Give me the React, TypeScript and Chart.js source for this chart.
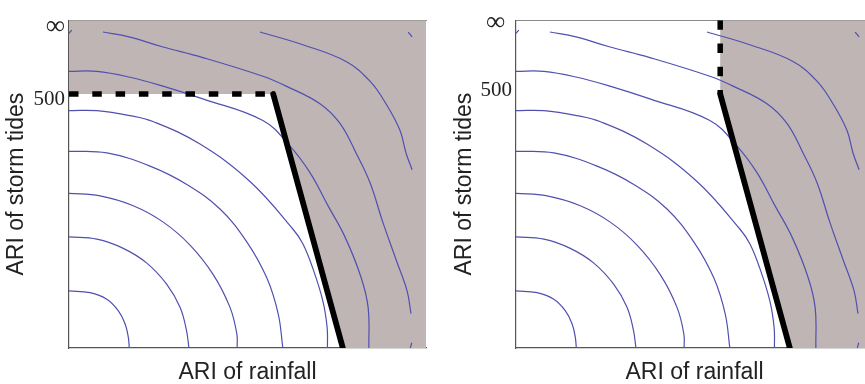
import React, { useEffect, useRef } from 'react';
import { Chart, registerables } from 'chart.js';

Chart.register(...registerables);

// ---- data (normalised ARI units: 0..100 on both axes) ----
const xTitle = 'ARI of rainfall';
const yTitle = 'ARI of storm tides';
const yTickLabels = ['500', '∞'];
const yTickValuesLeft = [75.7, 97.9];
const yTickValuesRight = [78.7, 99.1];

const contour1 = [[0, 17.4], [5.9, 16.9], [10.6, 14.9], [13.8, 11.4], [15.7, 7.4], [16.6, 3.4], [16.9, 0]];
const contour2 = [[0, 33.9], [7.8, 33.2], [15.2, 30.4], [21.8, 25.9], [27.4, 19.4], [31.1, 12.4], [32.9, 5.4], [33.6, 0]];
const contour3 = [[0, 47.2], [8.7, 46.4], [18.0, 43.4], [26.4, 38.4], [33.9, 31.4], [40.4, 22.4], [45.1, 12.4], [47.0, 4.4], [47.1, 0]];
const contour4 = [[0, 60.0], [10.6, 59.5], [22.7, 55.5], [33.0, 49.9], [42.3, 42.4], [49.8, 32.4], [55.4, 21.4], [58.6, 10.4], [59.9, 0]];
const contour5 = [[0, 72.4], [7.8, 72.4], [17.1, 70.9], [23.5, 69.1], [36.7, 62.2], [50.7, 50.8], [62.7, 36.3], [65.5, 31.8], [68.3, 24.3], [71.1, 14.4], [72.3, 6.3], [72.4, 0]];
const contour6 = [[0, 84.4], [7.8, 84.4], [17.1, 82.6], [26.3, 79.9], [37.5, 76.0], [54.3, 69.4], [61.9, 61.6], [67.5, 53.5], [72.5, 43.5], [77.3, 33.9], [81.8, 21.6], [83.8, 12.3], [84.0, 0]];
const contour7 = [[9.5, 96.4], [16.8, 94.9], [26.1, 91.9], [37.5, 88.6], [54.3, 82.9], [60.8, 79.9], [70.3, 74.5], [75.9, 68.5], [80.4, 59.5], [84.3, 50.5], [87.9, 38.4], [91.8, 26.4], [94.7, 17.4], [95.8, 10.5]];
const contour7LeftStub = [[0, 96.0], [0.8, 97.0]];
const contour7BottomStub = [[96.0, 1.6], [95.6, 0]];
const contour8 = [[53.5, 96.4], [65.5, 92.5], [77.6, 87.4], [84.3, 81.4], [88.8, 74.5], [92.7, 66.4], [94.4, 59.5], [96.1, 54.4]];
const contour9 = [[95.0, 96.4], [96.1, 94.9]];

const designLine = [[57.2, 77.5], [76.7, 0]];
const leftDashed = [[0, 77.5], [57.2, 77.5]];
const rightDashed = [[57.2, 100], [57.2, 77.5]];
const leftGrayEdge = [[0, 77.5], [57.2, 77.5], [76.7, 0], [100, 0]];
const rightGrayEdge = [[0, 100], [57.2, 100], [57.2, 77.5], [76.7, 0], [100, 0]];

const contours = [contour1, contour2, contour3, contour4, contour5, contour6, contour7, contour7LeftStub, contour7BottomStub, contour8, contour9];

const GRAY = 'rgb(190,181,180)';
const BLUE = '#5050b0';

const pts = (a: number[][]) => a.map(([x, y]) => ({ x, y }));

type Variant = 'left' | 'right';

function Panel({ variant }: { variant: Variant }) {
  const ref = useRef<HTMLCanvasElement | null>(null);
  useEffect(() => {
    if (!ref.current) return;
    const isLeft = variant === 'left';
    const yAxisWidth = isLeft ? 69 : 76;
    const plotWidth = 357;
    const canvasWidth = 440;
    const tickVals = isLeft ? yTickValuesLeft : yTickValuesRight;

    const datasets: any[] = [];
    datasets.push({
      data: pts(designLine),
      borderColor: '#000',
      borderWidth: 5.8,
      borderCapStyle: 'round',
      pointRadius: 0,
      tension: 0,
      fill: false,
      clip: 0,
    });
    datasets.push({
      data: pts(isLeft ? leftDashed : rightDashed),
      borderColor: '#000',
      borderWidth: 5.5,
      borderDash: [9.5, 13.8],
      borderCapStyle: 'butt',
      pointRadius: 0,
      tension: 0,
      fill: false,
      clip: 0,
    });
    contours.forEach((c) => {
      datasets.push({
        data: pts(c),
        borderColor: BLUE,
        borderWidth: 1.2,
        pointRadius: 0,
        tension: 0.4,
        fill: false,
      });
    });
    datasets.push({
      data: pts(isLeft ? leftGrayEdge : rightGrayEdge),
      borderColor: 'rgba(0,0,0,0)',
      borderWidth: 0,
      backgroundColor: GRAY,
      pointRadius: 0,
      tension: 0,
      fill: 'end',
    });

    const chart = new Chart(ref.current, {
      type: 'line',
      data: { datasets },
      options: {
        animation: false,
        responsive: false,
        devicePixelRatio: 1,
        layout: { padding: { top: 15, right: canvasWidth - yAxisWidth - plotWidth, bottom: 0, left: 0 } },
        plugins: { legend: { display: false }, tooltip: { enabled: false } },
        scales: {
          x: {
            type: 'linear',
            min: 0,
            max: 100,
            grid: { display: false, drawTicks: false },
            border: { display: true, color: '#555', width: 1.2 },
            ticks: { display: false },
            title: {
              display: true,
              text: xTitle,
              color: '#222',
              font: { family: 'Liberation Sans', size: 23, lineHeight: 1 },
              padding: { top: 0, bottom: 0 },
            },
            afterFit: (s: any) => { s.height = 36; },
          },
          xTop: {
            type: 'linear',
            position: 'top',
            min: 0,
            max: 100,
            grid: { display: false, drawTicks: false },
            border: { display: true, color: '#8a8a8a', width: 1 },
            ticks: { display: false },
            afterFit: (s: any) => { s.height = 0; },
          },
          y: {
            type: 'linear',
            min: 0,
            max: 100,
            grid: { display: false, drawTicks: false },
            border: { display: true, color: '#555', width: 1.2 },
            afterBuildTicks: (s: any) => { s.ticks = tickVals.map((v) => ({ value: v })); },
            ticks: {
              padding: 4,
              color: '#222',
              autoSkip: false,
              font: (ctx: any) => ({ family: 'Liberation Serif', size: ctx.index === 1 ? 27 : 21 }),
              callback: (_v: any, i: number) => (i === 1 && !isLeft ? yTickLabels[i] + ' ' : yTickLabels[i]),
            },
            title: {
              display: true,
              text: yTitle,
              color: '#222',
              font: { family: 'Liberation Sans', size: 23 },
              padding: { top: isLeft ? 3 : 11, bottom: 0 },
            },
            afterFit: (s: any) => { s.width = yAxisWidth; },
          },
        },
      } as any,
    });
    return () => chart.destroy();
  }, [variant]);
  return <canvas ref={ref} width={440} height={384} style={{ display: 'block', width: 440, height: 384 }} />;
}

export default function App() {
  return (
    <div style={{ position: 'absolute', left: 0, top: 0, width: 865, height: 384, overflow: 'hidden', background: '#fff' }}>
      <div style={{ position: 'absolute', left: 0, top: 0 }}>
        <Panel variant="left" />
      </div>
      <div style={{ position: 'absolute', left: 440, top: 0 }}>
        <Panel variant="right" />
      </div>
    </div>
  );
}
